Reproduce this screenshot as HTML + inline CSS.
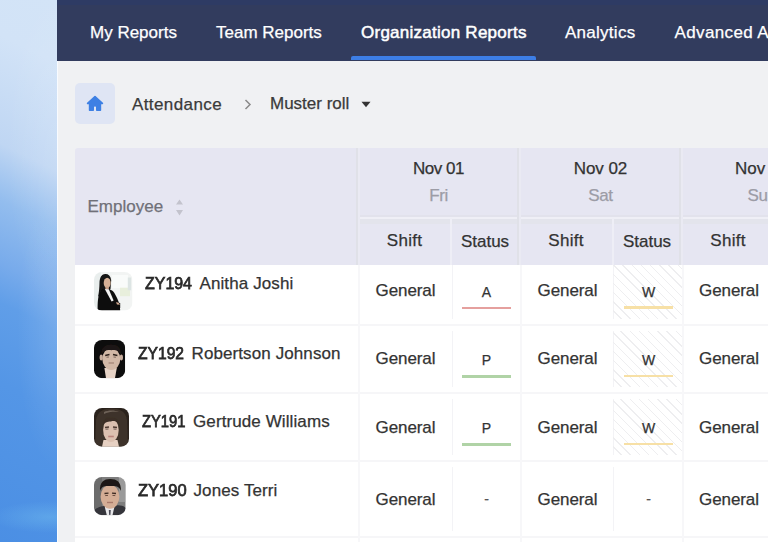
<!DOCTYPE html>
<html><head><meta charset="utf-8"><style>
html,body{margin:0;padding:0;width:768px;height:542px;overflow:hidden;background:#f0f1f3;font-family:'Liberation Sans', sans-serif;position:relative}
.t{position:absolute;white-space:nowrap;-webkit-text-stroke:0.25px currentColor}
.c{text-align:center}
#strip{position:absolute;left:0;top:0;width:57px;height:542px;background:radial-gradient(ellipse 50px 160px at 57px 150px,rgba(255,255,255,0.12),rgba(255,255,255,0)),radial-gradient(ellipse 40px 140px at 57px 330px,rgba(255,255,255,0.12),rgba(255,255,255,0)),radial-gradient(ellipse 60px 16px at 50px 517px,rgba(110,185,238,0.5),rgba(110,185,238,0)),linear-gradient(206deg,#d3e4f7 0%,#d2e3f7 11%,#bfd6f3 30%,#93bdee 40%,#78abeb 51%,#609ee8 58%,#5496e6 72%,#4b8fe4 100%)}
#nav{position:absolute;left:57px;top:0;width:711px;height:61px;background:#323c5e}
.hatch{position:absolute;background:repeating-linear-gradient(45deg,transparent 0,transparent 5.5px,#eeeef0 5.5px,#eeeef0 6.5px)}
.av{position:absolute;overflow:visible}
</style></head>
<body>
<div id="strip"></div><div style="position:absolute;left:57px;top:0;width:1px;height:542px;background:#f8fbff"></div>
<div id="nav"><div style="position:absolute;left:0;top:0;width:100%;height:5px;background:#2e3b64"></div></div>
<div class="t" style="left:90px;top:24px;font-size:17px;line-height:17px;color:#fff;">My Reports</div>
<div class="t" style="left:216px;top:24px;font-size:17px;line-height:17px;color:#fff;">Team Reports</div>
<div class="t" style="left:361px;top:24px;font-size:17px;line-height:17px;color:#fff;-webkit-text-stroke:0.5px #fff;letter-spacing:0.25px;">Organization Reports</div>
<div class="t" style="left:565px;top:24px;font-size:17px;line-height:17px;color:#fff;letter-spacing:0.27px;">Analytics</div>
<div class="t" style="left:674.5px;top:24px;font-size:17px;line-height:17px;color:#fff;letter-spacing:0.38px;">Advanced Analytics</div>
<div style="position:absolute;left:351px;top:56px;width:185px;height:4px;background:#3d7ee6;border-radius:2px 2px 0 0"></div>
<div style="position:absolute;left:75px;top:83px;width:40px;height:41px;background:#dfe5f4;border-radius:5px"></div>
<svg style="position:absolute;left:85px;top:94px" width="20" height="19" viewBox="0 0 20 19"><path d="M10 2.6 L2.6 9.4 L4.6 9.4 L4.6 16.2 L8.2 16.2 L8.2 12.8 Q8.2 11.6 10 11.6 Q11.8 11.6 11.8 12.8 L11.8 16.2 L15.4 16.2 L15.4 9.4 L17.4 9.4 Z" fill="#3e80e4" stroke="#3e80e4" stroke-width="1.6" stroke-linejoin="round"/></svg>
<div class="t" style="left:132px;top:96px;font-size:17px;line-height:17px;color:#3a3a3a;letter-spacing:0.4px;">Attendance</div>
<svg style="position:absolute;left:244px;top:99px" width="8" height="11" viewBox="0 0 8 11"><path d="M1.5 1 L6 5.5 L1.5 10" fill="none" stroke="#8a8a8a" stroke-width="1.5"/></svg>
<div class="t" style="left:270px;top:95px;font-size:17px;line-height:17px;color:#3a3a3a;">Muster roll</div>
<svg style="position:absolute;left:361px;top:101px" width="10" height="7" viewBox="0 0 10 7"><path d="M0.5 0.8 L9.5 0.8 L5 6.2 Z" fill="#333"/></svg>
<div id="thead1" style="position:absolute;left:75px;top:148px;width:693px;height:117px;background:#e6e6f2;border-radius:3px 0 0 0"></div>
<div id="tbody" style="position:absolute;left:75px;top:265px;width:693px;height:277px;background:#fff"></div>
<div style="position:absolute;left:358px;top:215px;width:410px;height:2px;background:#e2e2ec"></div>
<div style="position:absolute;left:358px;top:217px;width:410px;height:1.6px;background:#efeff6"></div>
<div style="position:absolute;left:358px;top:218.6px;width:410px;height:5px;background:#e3e4ec"></div>
<div style="position:absolute;left:355.8px;top:148px;width:2.3999999999999773px;height:117px;background:#e0e1e8"></div>
<div style="position:absolute;left:358.2px;top:148px;width:1.8000000000000114px;height:117px;background:#eaeaf3"></div>
<div style="position:absolute;left:516.5px;top:148px;width:2.5px;height:117px;background:#e0e1e8"></div>
<div style="position:absolute;left:519px;top:148px;width:2.3999999999999773px;height:117px;background:#eaeaf3"></div>
<div style="position:absolute;left:678.5px;top:148px;width:2.5px;height:117px;background:#e0e1e8"></div>
<div style="position:absolute;left:681px;top:148px;width:2.3999999999999773px;height:117px;background:#eaeaf3"></div>
<div style="position:absolute;left:450px;top:218px;width:2px;height:47px;background:#eeeef6"></div>
<div style="position:absolute;left:612px;top:218px;width:2px;height:47px;background:#eeeef6"></div>
<div style="position:absolute;left:75px;top:324px;width:693px;height:2px;background:#f6f6f8"></div>
<div style="position:absolute;left:75px;top:392px;width:693px;height:2px;background:#f6f6f8"></div>
<div style="position:absolute;left:75px;top:460px;width:693px;height:2px;background:#f6f6f8"></div>
<div style="position:absolute;left:75px;top:536px;width:693px;height:2px;background:#f6f6f8"></div>
<div style="position:absolute;left:358px;top:265px;width:2px;height:277px;background:#f7f7f9"></div>
<div style="position:absolute;left:520px;top:265px;width:2px;height:277px;background:#f7f7f9"></div>
<div style="position:absolute;left:682px;top:265px;width:2px;height:277px;background:#f7f7f9"></div>
<div style="position:absolute;left:451.5px;top:265px;width:1px;height:54px;background:#f3f3f6"></div>
<div style="position:absolute;left:613px;top:265px;width:1px;height:54px;background:#f3f3f6"></div>
<div style="position:absolute;left:451.5px;top:331px;width:1px;height:56px;background:#f3f3f6"></div>
<div style="position:absolute;left:613px;top:331px;width:1px;height:56px;background:#f3f3f6"></div>
<div style="position:absolute;left:451.5px;top:399px;width:1px;height:56px;background:#f3f3f6"></div>
<div style="position:absolute;left:613px;top:399px;width:1px;height:56px;background:#f3f3f6"></div>
<div style="position:absolute;left:451.5px;top:467px;width:1px;height:64px;background:#f3f3f6"></div>
<div style="position:absolute;left:613px;top:467px;width:1px;height:64px;background:#f3f3f6"></div>
<div class="t" style="left:87.5px;top:198px;font-size:17px;line-height:17px;color:#707078;">Employee</div>
<svg style="position:absolute;left:175px;top:198px" width="9" height="19" viewBox="0 0 9 19"><path d="M4.5 1.5 L8 6.5 L1 6.5 Z M4.5 17.5 L8 12 L1 12 Z" fill="#c3c3cd"/></svg>
<div class="t c" style="left:378.5px;width:120px;top:160px;font-size:17px;line-height:17px;color:#333;letter-spacing:-0.5px">Nov 01</div>
<div class="t c" style="left:378.5px;width:120px;top:187px;font-size:17px;line-height:17px;color:#9c9ca6;letter-spacing:-0.4px">Fri</div>
<div class="t c" style="left:540.5px;width:120px;top:160px;font-size:17px;line-height:17px;color:#333;letter-spacing:-0.05px">Nov 02</div>
<div class="t c" style="left:540.5px;width:120px;top:187px;font-size:17px;line-height:17px;color:#9c9ca6;letter-spacing:-0.4px">Sat</div>
<div class="t c" style="left:702px;width:120px;top:160px;font-size:17px;line-height:17px;color:#333;letter-spacing:0px">Nov 03</div>
<div class="t c" style="left:702px;width:120px;top:187px;font-size:17px;line-height:17px;color:#9c9ca6;letter-spacing:-0.4px">Sun</div>
<div class="t c" style="left:354.5px;width:100px;top:232px;font-size:17px;line-height:17px;color:#333;letter-spacing:0.25px">Shift</div>
<div class="t c" style="left:435px;width:100px;top:233px;font-size:17px;line-height:17px;color:#333;letter-spacing:0px">Status</div>
<div class="t c" style="left:516px;width:100px;top:232px;font-size:17px;line-height:17px;color:#333;letter-spacing:0.25px">Shift</div>
<div class="t c" style="left:597px;width:100px;top:233px;font-size:17px;line-height:17px;color:#333;letter-spacing:0px">Status</div>
<div class="t c" style="left:678px;width:100px;top:232px;font-size:17px;line-height:17px;color:#333;letter-spacing:0.25px">Shift</div>
<div class="t" style="left:144.5px;top:275px;font-size:17px;line-height:17px;color:#2a2a2a;-webkit-text-stroke:0.75px #2a2a2a;transform:scaleX(0.9381237524950099);transform-origin:0 0;">ZY194</div>
<div class="t" style="left:199.5px;top:275px;font-size:17px;line-height:17px;color:#333;letter-spacing:0.1px;">Anitha Joshi</div>
<div class="t c" style="left:355.5px;width:100px;top:282px;font-size:17px;line-height:17px;color:#333;letter-spacing:-0.1px">General</div>
<div class="t c" style="left:517.5px;width:100px;top:282px;font-size:17px;line-height:17px;color:#333;letter-spacing:-0.1px">General</div>
<div class="t c" style="left:679px;width:100px;top:282px;font-size:17px;line-height:17px;color:#333;letter-spacing:-0.1px">General</div>
<div class="t c" style="left:456.5px;width:60px;top:285px;font-size:14px;line-height:14px;color:#333">A</div>
<div style="position:absolute;left:462px;top:306.5px;width:49px;height:2.5px;background:#e5a09e"></div>
<div class="hatch" style="left:613px;top:265px;width:69px;height:54px"></div>
<div class="t c" style="left:618.5px;width:60px;top:285px;font-size:14px;line-height:14px;color:#333">W</div>
<div style="position:absolute;left:623.5px;top:306.0px;width:49px;height:2.5px;background:#f7e0a6"></div>
<div class="t" style="left:137.5px;top:344.5px;font-size:17px;line-height:17px;color:#2a2a2a;-webkit-text-stroke:0.75px #2a2a2a;transform:scaleX(0.9181636726546906);transform-origin:0 0;">ZY192</div>
<div class="t" style="left:191.5px;top:344.5px;font-size:17px;line-height:17px;color:#333;letter-spacing:0.1px;">Robertson Johnson</div>
<div class="t c" style="left:355.5px;width:100px;top:350px;font-size:17px;line-height:17px;color:#333;letter-spacing:-0.1px">General</div>
<div class="t c" style="left:517.5px;width:100px;top:350px;font-size:17px;line-height:17px;color:#333;letter-spacing:-0.1px">General</div>
<div class="t c" style="left:679px;width:100px;top:350px;font-size:17px;line-height:17px;color:#333;letter-spacing:-0.1px">General</div>
<div class="t c" style="left:456.5px;width:60px;top:353px;font-size:14px;line-height:14px;color:#333">P</div>
<div style="position:absolute;left:462px;top:375px;width:49px;height:2.5px;background:#b0d3a6"></div>
<div class="hatch" style="left:613px;top:331px;width:69px;height:56px"></div>
<div class="t c" style="left:618.5px;width:60px;top:353px;font-size:14px;line-height:14px;color:#333">W</div>
<div style="position:absolute;left:623.5px;top:374.5px;width:49px;height:2.5px;background:#f7e0a6"></div>
<div class="t" style="left:141.5px;top:413px;font-size:17px;line-height:17px;color:#2a2a2a;-webkit-text-stroke:0.75px #2a2a2a;transform:scaleX(0.8682634730538922);transform-origin:0 0;">ZY191</div>
<div class="t" style="left:193px;top:413px;font-size:17px;line-height:17px;color:#333;letter-spacing:0.1px;">Gertrude Williams</div>
<div class="t c" style="left:355.5px;width:100px;top:419px;font-size:17px;line-height:17px;color:#333;letter-spacing:-0.1px">General</div>
<div class="t c" style="left:517.5px;width:100px;top:419px;font-size:17px;line-height:17px;color:#333;letter-spacing:-0.1px">General</div>
<div class="t c" style="left:679px;width:100px;top:419px;font-size:17px;line-height:17px;color:#333;letter-spacing:-0.1px">General</div>
<div class="t c" style="left:456.5px;width:60px;top:421px;font-size:14px;line-height:14px;color:#333">P</div>
<div style="position:absolute;left:462px;top:443px;width:49px;height:2.5px;background:#b0d3a6"></div>
<div class="hatch" style="left:613px;top:399px;width:69px;height:56px"></div>
<div class="t c" style="left:618.5px;width:60px;top:421px;font-size:14px;line-height:14px;color:#333">W</div>
<div style="position:absolute;left:623.5px;top:442.5px;width:49px;height:2.5px;background:#f7e0a6"></div>
<div class="t" style="left:137.5px;top:481.5px;font-size:17px;line-height:17px;color:#2a2a2a;-webkit-text-stroke:0.75px #2a2a2a;transform:scaleX(0.9720558882235529);transform-origin:0 0;">ZY190</div>
<div class="t" style="left:193.5px;top:481.5px;font-size:17px;line-height:17px;color:#333;letter-spacing:0.1px;">Jones Terri</div>
<div class="t c" style="left:355.5px;width:100px;top:490.5px;font-size:17px;line-height:17px;color:#333;letter-spacing:-0.1px">General</div>
<div class="t c" style="left:517.5px;width:100px;top:490.5px;font-size:17px;line-height:17px;color:#333;letter-spacing:-0.1px">General</div>
<div class="t c" style="left:679px;width:100px;top:490.5px;font-size:17px;line-height:17px;color:#333;letter-spacing:-0.1px">General</div>
<div class="t c" style="left:456.5px;width:60px;top:492px;font-size:14px;line-height:14px;color:#555">-</div>
<div class="t c" style="left:618.5px;width:60px;top:492px;font-size:14px;line-height:14px;color:#555">-</div>
<svg class="av" style="left:93.5px;top:271.8px" width="38.5" height="38.6" viewBox="0 0 38.5 38.6"><defs><clipPath id="cp0"><rect width="38.5" height="38.6" rx="8"/></clipPath></defs><g clip-path="url(#cp0)" filter="url(#bl)"><rect width="38.5" height="38.6" fill="#f2f4f3"/>
 <rect x="0" y="0" width="7" height="38.6" fill="#e9eeed"/>
 <rect x="18" y="3" width="16" height="13" fill="#f9fbfa"/>
 <rect x="26" y="15.7" width="10" height="8.5" fill="#e8efdc"/>
 <rect x="33.8" y="5.5" width="3.4" height="12.8" fill="#dde5e4"/>
 <path d="M11.4 2.1 C7 2.3 5.6 6.5 5.5 11 C5.4 16 5 20 4.1 24.5 L10 23 L16.5 17 L17.2 8 C16.5 4 14.5 2.1 11.4 2.1 Z" fill="#131313"/>
 <ellipse cx="13.2" cy="10.9" rx="3.5" ry="5.2" fill="#d6b197"/>
 <path d="M9.8 4.8 C8.4 7.5 8.6 12.5 9.8 16.2 L8 17.5 C6.8 13 7 8 9.8 4.8 Z" fill="#131313"/>
 <rect x="11.4" y="14.8" width="3.4" height="3" fill="#c9a088"/>
 <path d="M3.7 38.6 C3.5 30 4 24.5 5.8 21 C7.5 18.3 9.5 17.3 11.2 17 L15 17.2 C18 17.8 20 19.5 21.5 23 C23.5 27 26 31 26.2 38.6 Z" fill="#111"/>
 <path d="M10.8 17 L14.8 17.2 L19.6 28.5 L17.6 29.5 Z" fill="#f4f4f4"/>
 <path d="M13.5 31.5 C17 30.5 22 30.2 26.2 31 L26.2 36 C22 35 17 35.5 13.5 36.5 Z" fill="#0d0d0d"/>
 <path d="M22 30.2 C23.8 30 25.5 30.8 25.8 32.7 L23 32.5 Z" fill="#d2a990"/></g></svg>
<svg class="av" style="left:93.7px;top:340.3px" width="31.2" height="38.2" viewBox="0 0 31.2 38.2"><defs><clipPath id="cp1"><rect width="31.2" height="38.2" rx="8"/></clipPath></defs><g clip-path="url(#cp1)" filter="url(#bl)"><rect width="31.2" height="38.2" fill="#0c0a0a"/>
 <path d="M10.4 28 L22.8 28 L21 38.2 L12 38.2 Z" fill="#e6d3c6"/>
 <ellipse cx="7.2" cy="17.5" rx="1.6" ry="3" fill="#c8ae9e"/>
 <ellipse cx="27.4" cy="17.5" rx="1.6" ry="3" fill="#c8ae9e"/>
 <ellipse cx="17.3" cy="19" rx="9" ry="11" fill="#d2b8a6"/>
 <path d="M7.5 15 C7 7.5 11 4.6 17.3 4.6 C23.5 4.6 27.5 7.5 27 15 C25 10.5 21.5 9.8 17.3 10.2 C13 9.8 9.5 10.5 7.5 15 Z" fill="#1d1613"/>
 <path d="M11.2 15.4 L15.5 14.6 M19 14.6 L23.4 15.4" stroke="#2e221c" stroke-width="1.5"/>
 <path d="M12.5 17.2 L15 17 M19.5 17 L22 17.2" stroke="#7a6458" stroke-width="1"/>
 <path d="M14.6 23 L20 23" stroke="#a88a7c" stroke-width="1.4"/></g></svg>
<svg class="av" style="left:93.9px;top:408.3px" width="35" height="38.7" viewBox="0 0 35 38.7"><defs><clipPath id="cp2"><rect width="35" height="38.7" rx="8"/></clipPath></defs><g clip-path="url(#cp2)" filter="url(#bl)"><rect width="35" height="38.7" fill="#2a221c"/>
 <path d="M2 12 C3 3 10 0.5 17.5 0.5 C25 0.5 32 3 33 12 L34 38.7 L1 38.7 Z" fill="#3d3229"/>
 <path d="M10 4 C14 2 21 2 25 4 C22 3.5 14 3.5 10 6 Z" fill="#6e6258"/>
 <path d="M9.5 32 L23.5 32 L25 38.7 L8 38.7 Z" fill="#e6d0c2"/>
 <ellipse cx="16.9" cy="22" rx="7.8" ry="12" fill="#dbc0b0"/>
 <path d="M8.6 18 C9.5 9.5 14 8.5 17.5 10 C22 9 25.5 11.5 25.6 18.5 C23.5 13 20 12.5 17 13.5 C13 13.5 10.5 14.5 8.6 18 Z" fill="#3a2e27"/>
 <path d="M11 19.5 L15 19 M19 19 L23 19.5" stroke="#4e3a32" stroke-width="1.3"/>
 <path d="M11.5 21.2 L14.5 21 M19.5 21 L22.5 21.2" stroke="#6e5a52" stroke-width="1"/>
 <path d="M14.2 28.5 L19.8 28.5" stroke="#b9847c" stroke-width="1.6"/></g></svg>
<svg class="av" style="left:93.9px;top:476.8px" width="31.7" height="38.2" viewBox="0 0 31.7 38.2"><defs><clipPath id="cp3"><rect width="31.7" height="38.2" rx="8"/></clipPath></defs><g clip-path="url(#cp3)" filter="url(#bl)"><rect width="31.7" height="38.2" fill="#7e7e7e"/>
 <rect x="0" y="0" width="8" height="38.2" fill="#6c6c6c"/>
 <rect x="25" y="0" width="6.7" height="25" fill="#9a9a9a"/>
 <path d="M0 38.2 L0 33 C5 29.5 9 28.5 15 29.5 C22 28.5 27 27 31.7 31 L31.7 38.2 Z" fill="#34343a"/>
 <path d="M10.8 30 L20.4 30 L18.5 38.2 L12.8 38.2 Z" fill="#e8e8ea"/>
 <path d="M14.8 33 L16.8 33 L16.4 38.2 L15.2 38.2 Z" fill="#4a4a55"/>
 <ellipse cx="16" cy="19.8" rx="9.4" ry="12" fill="#d4ad95"/>
 <path d="M6 14 C5.5 5 10 2 16.2 2 C23 2 27.2 5 27 14 C25.5 9.5 22 8.6 16.2 9 C10.5 8.6 7.5 9.5 6 14 Z" fill="#1e1916"/>
 <path d="M10.5 16.5 L14.5 16.2 M18 16.2 L22 16.5" stroke="#3e2c24" stroke-width="1.3"/>
 <path d="M11.2 18.6 L14 18.4 M18.5 18.4 L21.3 18.6" stroke="#6a4c40" stroke-width="1"/>
 <path d="M13 25.5 L19 25.5" stroke="#a8796a" stroke-width="1.4"/></g></svg>
<svg width="0" height="0" style="position:absolute"><filter id="bl"><feGaussianBlur stdDeviation="0.5"/></filter></svg>
</body></html>
